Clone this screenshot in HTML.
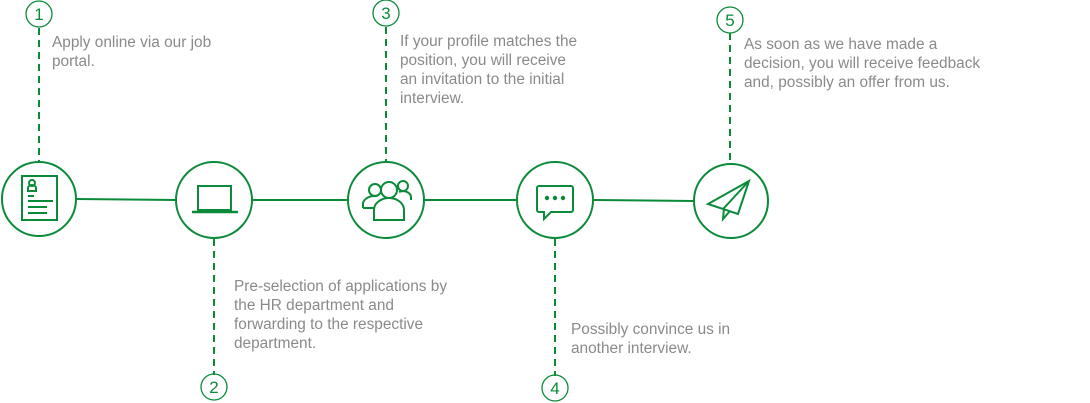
<!DOCTYPE html>
<html><head><meta charset="utf-8"><style>
html,body{margin:0;padding:0;background:#fff;}
svg{display:block;}
text{font-family:"Liberation Sans",sans-serif;}
.t{font-size:15.4px;fill:#8a8a8a;}
.n{font-size:17px;fill:#0b8a3a;text-anchor:middle;}
</style></head><body>
<svg width="1090" height="403" viewBox="0 0 1090 403" xmlns="http://www.w3.org/2000/svg">
<g stroke="#0b8a3a" stroke-width="2" fill="none">
<line x1="76" y1="199" x2="176" y2="200"/>
<line x1="252" y1="200" x2="348" y2="200"/>
<line x1="424" y1="200" x2="517" y2="200"/>
<line x1="593" y1="200" x2="694" y2="201"/>
<g stroke-dasharray="7,5">
<line x1="39" y1="28" x2="39" y2="161"/>
<line x1="386" y1="27" x2="386" y2="161"/>
<line x1="730" y1="33" x2="730" y2="164"/>
<line x1="214" y1="239" x2="214" y2="375"/>
<line x1="555" y1="239" x2="555" y2="376"/>
</g>
<circle cx="39" cy="199" r="37"/>
<circle cx="214" cy="200" r="38"/>
<circle cx="386" cy="200" r="38"/>
<circle cx="555" cy="200" r="38"/>
<circle cx="731" cy="201" r="37"/>
<g stroke-width="1.3">
<circle cx="39" cy="14" r="13"/>
<circle cx="386" cy="13" r="13"/>
<circle cx="730" cy="20" r="13"/>
<circle cx="214" cy="387" r="13"/>
<circle cx="555" cy="388" r="13"/>
</g>
<rect x="22" y="176" width="35" height="44"/>
<circle cx="32" cy="183" r="3"/>
<path d="M28 191 v-3 a4 3 0 0 1 8 0 v3 z"/>
<line x1="28" y1="196" x2="34" y2="196"/>
<line x1="28" y1="201" x2="53" y2="201"/>
<line x1="28" y1="207" x2="47" y2="207"/>
<line x1="28" y1="213" x2="47" y2="213"/>
<rect x="198" y="186" width="33" height="24"/>
<path d="M192 212 h46" stroke-width="2.5"/>
<circle cx="375" cy="190" r="6"/>
<circle cx="403" cy="186" r="5"/>
<circle cx="389" cy="190" r="8"/>
<path d="M363 208 v-5 a12 9 0 0 1 14 -7"/>
<path d="M363 208 h12"/>
<path d="M411 200 v-3 a8 6 0 0 0 -12 -5"/>
<path d="M374 220 v-10 a15 12 0 0 1 30 0 v10 z"/>
<path d="M539 186 h32 a2 2 0 0 1 2 2 v22 a2 2 0 0 1 -2 2 h-20 l-7 7 v-7 h-5 a2 2 0 0 1 -2 -2 v-22 a2 2 0 0 1 2 -2 z"/>
<path d="M708 204 L749 181 L738 214 Z"/>
<path d="M749 181 L724 208 L723 219 L730 211"/>
</g>
<g fill="#0b8a3a">
<circle cx="547" cy="198" r="2.2"/>
<circle cx="555" cy="198" r="2.2"/>
<circle cx="563" cy="198" r="2.2"/>
</g>
<text class="n" x="39" y="20">1</text>
<text class="n" x="386" y="19">3</text>
<text class="n" x="730" y="26">5</text>
<text class="n" x="214" y="393">2</text>
<text class="n" x="555" y="394">4</text>
<text class="t" x="52" y="47">Apply online via our job</text>
<text class="t" x="52" y="66">portal.</text>
<text class="t" x="400" y="46">If your profile matches the</text>
<text class="t" x="400" y="65">position, you will receive</text>
<text class="t" x="400" y="84">an invitation to the initial</text>
<text class="t" x="400" y="103">interview.</text>
<text class="t" x="744" y="49">As soon as we have made a</text>
<text class="t" x="744" y="68">decision, you will receive feedback</text>
<text class="t" x="744" y="87">and, possibly an offer from us.</text>
<text class="t" x="234" y="291">Pre-selection of applications by</text>
<text class="t" x="234" y="310">the HR department and</text>
<text class="t" x="234" y="329">forwarding to the respective</text>
<text class="t" x="234" y="348">department.</text>
<text class="t" x="571" y="334">Possibly convince us in</text>
<text class="t" x="571" y="353">another interview.</text>
</svg>
</body></html>
